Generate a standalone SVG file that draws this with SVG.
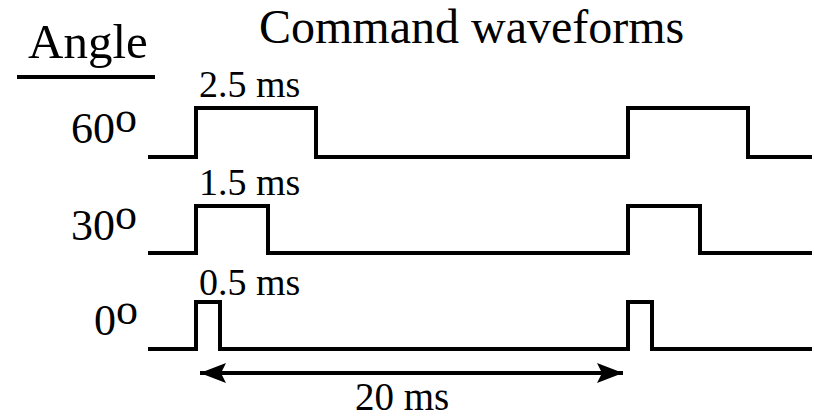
<svg xmlns="http://www.w3.org/2000/svg" width="814" height="417" viewBox="0 0 814 417">
  <style>
    text { font-family: "Liberation Serif", "Times New Roman", serif; fill: #000; }
    .title { font-size: 48px; }
    .angle { font-size: 44px; }
    .dur { font-size: 38px; }
    .wave { fill: none; stroke: #000; stroke-width: 4; stroke-linejoin: miter; stroke-linecap: butt; }
  </style>
  <defs>
    <marker id="head" markerWidth="28" markerHeight="22" refX="26" refY="11" orient="auto-start-reverse" markerUnits="userSpaceOnUse">
      <path d="M0,1 L26,11 L0,21 L5,11 Z" fill="#000"/>
    </marker>
  </defs>

  <rect width="814" height="417" fill="#fff"/>

  <!-- headings -->
  <g id="heading-angle">
    <text class="title" x="28" y="58" style="font-size:49px">Angle</text>
    <line x1="17" y1="77" x2="155" y2="77" stroke="#000" stroke-width="4"/>
  </g>
  <g id="heading-title">
    <text class="title" x="259" y="43">Command waveforms</text>
  </g>

  <!-- angle labels -->
  <g id="label-60">
    <text class="angle" x="71" y="143">60<tspan dy="-11">o</tspan></text>
  </g>
  <g id="label-30">
    <text class="angle" x="71" y="240">30<tspan dy="-11">o</tspan></text>
  </g>
  <g id="label-0">
    <text class="angle" x="94" y="335">0<tspan dy="-11">o</tspan></text>
  </g>

  <!-- waveforms -->
  <g id="wave-60">
    <path class="wave" d="M148,157 H196 V108 H316 V157 H628 V108 H748 V157 H812"/>
    <text class="dur" x="199" y="97">2.5 ms</text>
  </g>
  <g id="wave-30">
    <path class="wave" d="M148,253 H196 V206 H268 V253 H628 V206 H700 V253 H812"/>
    <text class="dur" x="199" y="195">1.5 ms</text>
  </g>
  <g id="wave-0">
    <path class="wave" d="M148,349 H196 V302 H220 V349 H628 V302 H652 V349 H812"/>
    <text class="dur" x="199" y="295">0.5 ms</text>
  </g>

  <!-- period dimension -->
  <g id="connectors">
    <line x1="200" y1="373" x2="623" y2="373" stroke="#000" stroke-width="4" marker-start="url(#head)" marker-end="url(#head)"/>
  </g>
  <g id="label-period">
    <text class="dur" x="355" y="410" style="font-size:39px">20 ms</text>
  </g>
</svg>
